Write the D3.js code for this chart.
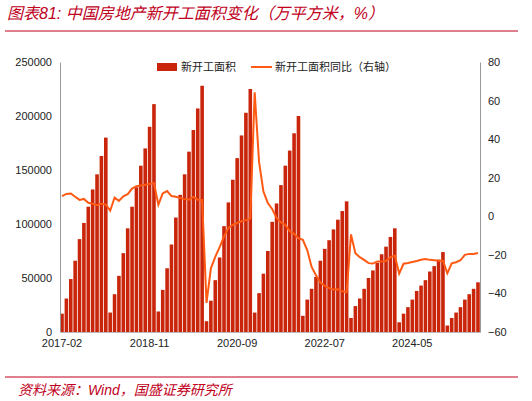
<!DOCTYPE html>
<html>
<head>
<meta charset="utf-8">
<script src="https://cdn.jsdelivr.net/npm/d3@7"></script>
<style>
  body { margin: 0; background: #fff; }
  text { font-family: "Liberation Sans", Arial, "Noto Sans CJK SC", sans-serif; }
</style>
</head>
<body>
<svg width="532" height="401"></svg>
<script>
// months: Feb..Dec for 2017-2024, Feb..Sep for 2025 (Jan is merged into Feb)
const years = [2017, 2018, 2019, 2020, 2021, 2022, 2023, 2024, 2025];
const months = [];
years.forEach(y => {
	const last = y === 2025 ? 9 : 12;
	for (let m = 2; m <= last; m++) months.push(y + "-" + String(m).padStart(2, "0"));
});

// 新开工面积 (万平方米), cumulative
const area = [
	17000, 31000, 49000, 66000, 86000, 101000, 116000, 132000, 146000, 163000, 180000,
	18000, 35000, 52000, 73000, 96000, 116000, 134000, 154000, 170000, 190000, 211000,
	19000, 39000, 59000, 81000, 106000, 127000, 146000, 167000, 187000, 207000, 228000,
	10000, 29000, 48000, 69000, 98000, 120000, 141000, 161000, 182000, 203000, 225000,
	18000, 36000, 54000, 75000, 102000, 119000, 136000, 154000, 168000, 184000, 200000,
	15000, 30000, 40000, 51000, 66000, 77000, 85000, 95000, 104000, 112000, 121000,
	13000, 24000, 31000, 40000, 50000, 57000, 64000, 72000, 79000, 88000, 96000,
	9000, 17000, 23000, 30000, 38000, 43000, 48000, 56000, 61000, 67000, 74000,
	6000, 13000, 18000, 23000, 30000, 35000, 40000, 46000
];

// 新开工面积同比 (%)
const yoy = [
	10.4, 11.6, 11.8, 10.1, 8.5, 9.0, 7.0, 6.5, 5.8, 6.5, 6.0,
	2.9, 9.7, 8.0, 10.3, 11.5, 14.4, 15.6, 16.0, 16.3, 16.8, 17.2,
	6.0, 11.9, 13.1, 10.5, 10.1, 9.5, 8.9, 8.6, 10.0, 8.6, 8.5,
	-44.9, -27.0, -21.0, -16.0, -10.5, -6.0, -4.5, -3.5, -2.6, -2.0, -1.2,
	64.3, 28.2, 12.8, 6.9, 3.8, -0.9, -3.2, -4.5, -7.7, -9.1, -11.4,
	-12.2, -17.5, -26.3, -30.6, -34.4, -36.1, -37.2, -38.0, -37.8, -38.9, -39.4,
	-9.4, -19.2, -21.2, -22.6, -24.3, -24.5, -23.4, -23.4, -23.2, -21.2, -20.4,
	-29.7, -24.6, -24.2, -23.7, -23.2, -22.5, -22.2, -22.6, -22.8, -23.0, -23.0,
	-29.6, -24.4, -23.8, -22.8, -20.0, -19.5, -19.5, -19.0
];

const xTicks = ["2017-02", "2018-11", "2020-09", "2022-07", "2024-05"];
const leftTicks = [0, 50000, 100000, 150000, 200000, 250000];
const rightTicks = [-60, -40, -20, 0, 20, 40, 60, 80];

const svg = d3.select("svg");
const red = "#c0001c";
const margin = { top: 62, right: 52, bottom: 69, left: 60 };
const width = 532, height = 401;

// title
svg.append("text").attr("x", 7).attr("y", 19)
	.attr("fill", red).attr("font-size", 16).attr("font-style", "italic")
	.text("图表81:  中国房地产新开工面积变化（万平方米，%）");
svg.append("line").attr("x1", 5).attr("x2", 518).attr("y1", 31).attr("y2", 31)
	.attr("stroke", red).attr("stroke-width", 1);

const x = d3.scaleBand().domain(months)
	.range([margin.left, width - margin.right]).paddingInner(0.18).paddingOuter(0.05);
const yL = d3.scaleLinear().domain([0, 250000]).range([height - margin.bottom, margin.top]);
const yR = d3.scaleLinear().domain([-60, 80]).range([height - margin.bottom, margin.top]);

// bars
svg.append("g").selectAll("rect").data(area).join("rect")
	.attr("x", (d, i) => x(months[i]))
	.attr("y", d => yL(d))
	.attr("width", x.bandwidth())
	.attr("height", d => yL(0) - yL(d))
	.attr("fill", "#c8250a");

// line
const line = d3.line()
	.x((d, i) => x(months[i]) + x.bandwidth() / 2)
	.y(d => yR(d));
svg.append("path").datum(yoy)
	.attr("d", line).attr("fill", "none")
	.attr("stroke", "#ff5a14").attr("stroke-width", 2);

// axes
const leftAxis = svg.append("g").attr("transform", `translate(${margin.left},0)`)
	.call(d3.axisLeft(yL).tickValues(leftTicks).tickSize(0).tickPadding(8).tickFormat(d3.format("d")));
const rightAxis = svg.append("g").attr("transform", `translate(${width - margin.right},0)`)
	.call(d3.axisRight(yR).tickValues(rightTicks).tickSize(0).tickPadding(8));
const bottomAxis = svg.append("g").attr("transform", `translate(0,${height - margin.bottom})`)
	.call(d3.axisBottom(x).tickValues(xTicks).tickSize(0).tickPadding(7));
[leftAxis, rightAxis, bottomAxis].forEach(g => {
	g.selectAll("text").attr("font-size", 11).attr("fill", "#222")
		.attr("font-family", "Liberation Sans, Arial, sans-serif");
	g.select(".domain").attr("stroke", "#999");
});
bottomAxis.select(".domain").attr("stroke", "#bbb");

// legend
const lg = svg.append("g").attr("font-size", 11).attr("fill", "#222");
lg.append("rect").attr("x", 157).attr("y", 63).attr("width", 20).attr("height", 8).attr("fill", "#c8250a");
lg.append("text").attr("x", 181).attr("y", 71).attr("font-size", 11).text("新开工面积");
lg.append("line").attr("x1", 251).attr("x2", 272).attr("y1", 67).attr("y2", 67)
	.attr("stroke", "#ff5a14").attr("stroke-width", 2);
lg.append("text").attr("x", 275).attr("y", 71).attr("font-size", 11).text("新开工面积同比（右轴）");

// footer
svg.append("line").attr("x1", 5).attr("x2", 518).attr("y1", 377).attr("y2", 377)
	.attr("stroke", red).attr("stroke-width", 1);
svg.append("text").attr("x", 18).attr("y", 395)
	.attr("fill", red).attr("font-size", 14).attr("font-style", "italic")
	.text("资料来源：Wind，国盛证券研究所");
</script>
</body>
</html>
